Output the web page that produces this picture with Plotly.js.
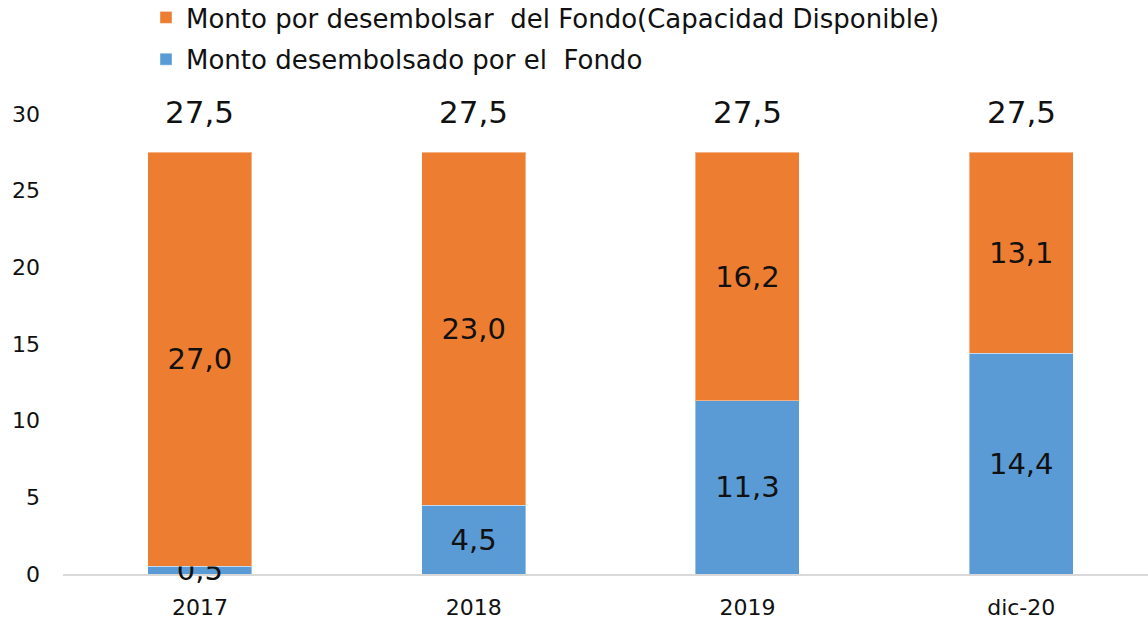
<!DOCTYPE html>
<html>
<head>
<meta charset="utf-8">
<script src="https://cdn.plot.ly/plotly-3.0.1.min.js"></script>
<style>html,body{margin:0;padding:0;background:#fff;}#chart{width:1148px;height:621px;}</style>
</head>
<body>
<div id="chart"></div>
<script>
var categories = ["2017", "2018", "2019", "dic-20"];
var desembolsado = [0.5, 4.5, 11.3, 14.4];
var porDesembolsar = [27.0, 23.0, 16.2, 13.1];
var totals = [27.5, 27.5, 27.5, 27.5];
var seriesNames = ["Monto desembolsado por el  Fondo", "Monto por desembolsar  del Fondo(Capacidad Disponible)"];

var FONT = "'DejaVu Sans', sans-serif";

var traces = [
  {
    type: "bar", x: categories, y: desembolsado, name: seriesNames[0],
    legendgroup: "a", legendrank: 2,
    marker: {color: "#5B9BD5", line: {color: "rgba(255,255,255,0.4)", width: 1}},
    texttemplate: "%{y:.1f}", textposition: "inside", insidetextanchor: "middle", textangle: 0,
    textfont: {family: FONT, size: 29, color: "#111"}, hoverinfo: "skip", cliponaxis: false
  },
  {
    type: "bar", x: categories, y: porDesembolsar, name: seriesNames[1],
    legendgroup: "b", legendrank: 1,
    marker: {color: "#ED7D31", line: {color: "rgba(255,255,255,0.4)", width: 1}},
    texttemplate: "%{y:.1f}", textposition: "inside", insidetextanchor: "middle", textangle: 0,
    textfont: {family: FONT, size: 29, color: "#111"}, hoverinfo: "skip", cliponaxis: false
  }
];

var annotations = categories.map(function(c, i) {
  return {
    x: i, y: totals[i], xref: "x", yref: "y",
    text: totals[i].toFixed(1).replace(".", ","),
    showarrow: false, yanchor: "bottom", yshift: 20,
    font: {family: FONT, size: 31, color: "#111"}
  };
});

var layout = {
  width: 1148, height: 621,
  margin: {l: 63, r: 0, t: 114, b: 47, autoexpand: false},
  paper_bgcolor: "#fff", plot_bgcolor: "#fff",
  barmode: "stack", bargap: 0.62,
  separators: ",.",
  uniformtext: {minsize: 29, mode: "show"},
  showlegend: true,
  legend: {
    x: 146 / 1148, xref: "container", xanchor: "left",
    y: 1 + 120 / 460, yref: "paper", yanchor: "top",
    traceorder: "grouped", tracegroupgap: 5,
    font: {family: FONT, size: 26, color: "#111"},
    itemwidth: 30, bgcolor: "rgba(0,0,0,0)"
  },
  xaxis: {
    type: "category", range: [-0.5, 3.463],
    showgrid: false, zeroline: false,
    showline: true, linecolor: "#D9D9D9", linewidth: 2, layer: "below traces",
    ticks: "", ticklabelstandoff: 13,
    tickfont: {family: FONT, size: 22, color: "#111"}, fixedrange: true
  },
  yaxis: {
    range: [0, 30], dtick: 5, tick0: 0,
    showgrid: false, zeroline: false, showline: false,
    ticks: "", ticklabelstandoff: 22,
    tickfont: {family: FONT, size: 22, color: "#111"}, fixedrange: true
  },
  annotations: annotations
};

Plotly.newPlot("chart", traces, layout, {displayModeBar: false, staticPlot: true});
</script>
</body>
</html>
